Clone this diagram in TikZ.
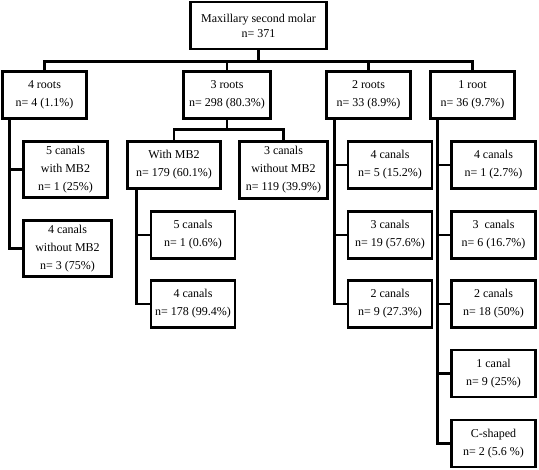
\documentclass[tikz,border=0pt]{standalone}
\usepackage{fontspec}
\setmainfont{Liberation Serif}
\usepackage{tikz}
\usetikzlibrary{positioning}
\tikzstyle{box} = [
    rectangle, draw=black, text centered, align=center,
    line width=2.7pt,
    minimum width=84pt,
    minimum height=47pt,
    inner sep=1pt,
    font=\fontsize{12}{18}\selectfont,
]
\tikzstyle{tall} = [
    box,
    minimum height=56pt,
]
\tikzstyle{link} = [line width=2.7pt]

\begin{document}
\begin{tikzpicture}[x=1pt, y=-1pt]
    \useasboundingbox (0,0) rectangle (539,470);
    % boxes
    \node (root) at (258.5, 25.5) [box, minimum width=136pt, font=\fontsize{12}{15}\selectfont] {Maxillary second molar\\n= 371};
    \node (roots4) at (44.5, 95) [box] {4 roots\\n= 4 (1.1\%)};
    \node (roots3) at (227, 95) [box, minimum width=87pt] {3 roots\\n= 298 (80.3\%)};
    \node (roots2) at (368.5, 95) [box] {2 roots\\n= 33 (8.9\%)};
    \node (roots1) at (472.5, 95) [box] {1 root\\n= 36 (9.7\%)};

    \node (four5) at (65.5, 169.5) [tall] {5 canals\\with MB2\\n= 1 (25\%)};
    \node (four4) at (67.5, 248.5) [tall, minimum width=88pt] {4 canals\\without MB2\\n= 3 (75\%)};

    \node (withmb) at (174, 165) [box, minimum width=93pt] {With MB2\\n= 179 (60.1\%)};
    \node (nomb) at (283.5, 170) [tall, minimum width=88pt, minimum height=57pt] {3 canals\\without MB2\\n= 119 (39.9\%)};
    \node (withmb5) at (193, 235) [box] {5 canals\\n= 1 (0.6\%)};
    \node (withmb4) at (193, 304) [box] {4 canals\\n= 178 (99.4\%)};

    \foreach \i/\y/\txt in {1/165/{4 canals\\n= 5 (15.2\%)}, 2/235/{3 canals\\n= 19 (57.6\%)}, 3/304/{2 canals\\n= 9 (27.3\%)}} {
        \node (two\i) at (390, \y) [box] {\txt};
    }
    \foreach \i/\y/\txt in {1/165/{4 canals\\n= 1 (2.7\%)}, 2/235/{3 \ canals\\n= 6 (16.7\%)}, 3/304/{2 canals\\n= 18 (50\%)}, 4/373.5/{1 canal\\n= 9 (25\%)}, 5/443.5/{C-shaped\\n= 2 (5.6 \%)}} {
        \node (one\i) at (493.5, \y) [box] {\txt};
    }

    % links
    \foreach \n in {roots4, roots3, roots2, roots1} {
        \draw [link] (root.south) -- ++(0,11) -| (\n.north);
    }
    \foreach \n in {withmb, nomb} {
        \draw [link] (roots3.south) -- ++(0,10) -| (\n.north);
    }
    \foreach \n in {four5, four4} {
        \draw [link] ([xshift=8pt]roots4.south west) |- (\n.west);
    }
    \foreach \n in {withmb5, withmb4} {
        \draw [link] ([xshift=10pt]withmb.south west) |- (\n.west);
    }
    \foreach \i in {1,...,3} {
        \draw [link] ([xshift=9pt]roots2.south west) |- (two\i.west);
    }
    \foreach \i in {1,...,5} {
        \draw [link] ([xshift=8pt]roots1.south west) |- (one\i.west);
    }
\end{tikzpicture}
\end{document}
